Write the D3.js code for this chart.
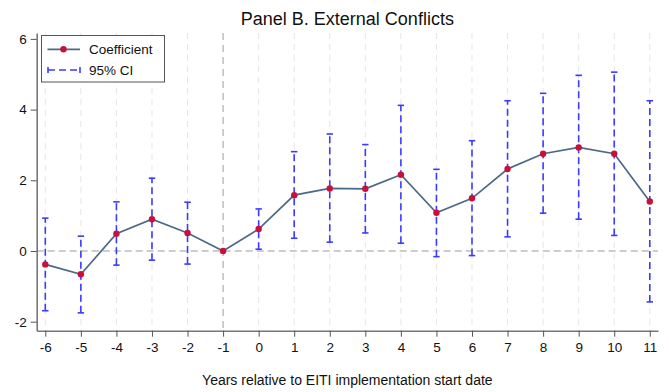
<!DOCTYPE html>
<html>
<head>
<meta charset="utf-8">
<script src="https://cdn.jsdelivr.net/npm/d3@7"></script>
<style>
  html, body { margin: 0; padding: 0; background: #fff; }
  svg { display: block; font-family: "Liberation Sans", Arial, sans-serif; }
</style>
</head>
<body>
<svg id="chart" width="669" height="392"></svg>
<script>
const years = [-6,-5,-4,-3,-2,-1,0,1,2,3,4,5,6,7,8,9,10,11];
const coef  = [-0.38,-0.66,0.49,0.90,0.51,0.00,0.62,1.58,1.77,1.76,2.16,1.08,1.49,2.32,2.75,2.93,2.75,1.40];
const ciLow = [-1.69,-1.75,-0.40,-0.26,-0.37,null,0.05,0.36,0.25,0.51,0.22,-0.16,-0.13,0.40,1.07,0.90,0.44,-1.44];
const ciHigh= [0.93,0.42,1.39,2.06,1.38,null,1.19,2.81,3.31,3.01,4.12,2.31,3.12,4.25,4.46,4.97,5.06,4.25];
const yTicks = [-2,0,2,4,6];
const titleText = "Panel B. External Conflicts";
const xLabel = "Years relative to EITI implementation start date";

const svg = d3.select("#chart");
const L = 36.7, R = 658, T = 33, B = 330.7;

const x = d3.scaleLinear().domain([-6.242, 11.231]).range([L, R]);
const y = d3.scaleLinear().domain([-2.255, 6.167]).range([B, T]);

// vertical grid lines
svg.append("g").selectAll("line").data(years.filter(d => d !== -1)).join("line")
  .attr("x1", d => x(d)).attr("x2", d => x(d))
  .attr("y1", T).attr("y2", B)
  .attr("stroke", "#e6e6e6").attr("stroke-width", 1)
  .attr("stroke-dasharray", "6,5");

// reference line at x=-1
svg.append("line")
  .attr("x1", x(-1)).attr("x2", x(-1)).attr("y1", T).attr("y2", B)
  .attr("stroke", "#a9b8b8").attr("stroke-width", 1.3)
  .attr("stroke-dasharray", "7,5");

// reference line at y=0
svg.append("line")
  .attr("x1", L).attr("x2", R).attr("y1", y(0)).attr("y2", y(0))
  .attr("stroke", "#9a9a9a").attr("stroke-width", 1)
  .attr("stroke-dasharray", "7,4");

// axes
const fmt = d => String(d);
const xAxis = d3.axisBottom(x).tickValues(years).tickSize(6).tickSizeOuter(0).tickFormat(fmt);
const gx = svg.append("g").attr("transform", `translate(0,${B})`).call(xAxis);
gx.select(".domain").attr("stroke", "#777").attr("stroke-width", 1.6);
gx.selectAll(".tick line").attr("stroke", "#555");
gx.selectAll(".tick text").attr("font-size", 13.5).attr("fill", "#111").attr("dy", "0.72em").attr("y", 12)
  .attr("font-family", "Liberation Sans, Arial, sans-serif");

const yAxis = d3.axisLeft(y).tickValues(yTicks).tickSize(6).tickSizeOuter(0).tickFormat(fmt);
const gy = svg.append("g").attr("transform", `translate(${L},0)`).call(yAxis);
gy.select(".domain").attr("stroke", "#777").attr("stroke-width", 1.6);
gy.selectAll(".tick line").attr("stroke", "#555");
gy.selectAll(".tick text").attr("font-size", 13.5).attr("fill", "#111").attr("x", -10)
  .attr("font-family", "Liberation Sans, Arial, sans-serif");

// CIs
const ciData = years.map((d, i) => ({x: d, lo: ciLow[i], hi: ciHigh[i]})).filter(d => d.lo !== null);
const ciColor = "#3b3bff";
const gci = svg.append("g");
gci.selectAll("line.ci").data(ciData).join("line").attr("class", "ci")
  .attr("x1", d => x(d.x)).attr("x2", d => x(d.x))
  .attr("y1", d => y(d.lo)).attr("y2", d => y(d.hi))
  .attr("stroke", ciColor).attr("stroke-width", 1.6).attr("stroke-dasharray", "7,4");
gci.selectAll("line.capH").data(ciData).join("line").attr("class", "capH")
  .attr("x1", d => x(d.x) - 3.2).attr("x2", d => x(d.x) + 3.2)
  .attr("y1", d => y(d.hi)).attr("y2", d => y(d.hi))
  .attr("stroke", ciColor).attr("stroke-width", 1.6);
gci.selectAll("line.capL").data(ciData).join("line").attr("class", "capL")
  .attr("x1", d => x(d.x) - 3.2).attr("x2", d => x(d.x) + 3.2)
  .attr("y1", d => y(d.lo)).attr("y2", d => y(d.lo))
  .attr("stroke", ciColor).attr("stroke-width", 1.6);

// coefficient line
const pts = years.map((d, i) => ({x: d, v: coef[i]}));
svg.append("path").datum(pts)
  .attr("d", d3.line().x(d => x(d.x)).y(d => y(d.v)))
  .attr("fill", "none").attr("stroke", "#4a6a88").attr("stroke-width", 1.7);
svg.append("g").selectAll("circle").data(pts).join("circle")
  .attr("cx", d => x(d.x)).attr("cy", d => y(d.v)).attr("r", 3.2)
  .attr("fill", "#c8103c");

// title
svg.append("text").attr("x", (L + R) / 2).attr("y", 25)
  .attr("text-anchor", "middle").attr("font-size", 18).attr("fill", "#111").text(titleText);

// x label
svg.append("text").attr("x", (L + R) / 2).attr("y", 385)
  .attr("text-anchor", "middle").attr("font-size", 14).attr("fill", "#111").text(xLabel);

// legend
const lg = svg.append("g");
lg.append("rect").attr("x", 41.5).attr("y", 35.5).attr("width", 123).attr("height", 46.5)
  .attr("fill", "#fff").attr("stroke", "#555").attr("stroke-width", 1);
lg.append("line").attr("x1", 47.5).attr("x2", 80).attr("y1", 49.3).attr("y2", 49.3)
  .attr("stroke", "#4a6a88").attr("stroke-width", 1.7);
lg.append("circle").attr("cx", 63.5).attr("cy", 49.3).attr("r", 3.2).attr("fill", "#c8103c");
lg.append("text").attr("x", 89).attr("y", 54).attr("font-size", 13.5).attr("fill", "#111").text("Coefficient");
lg.append("line").attr("x1", 48).attr("x2", 80).attr("y1", 70).attr("y2", 70)
  .attr("stroke", ciColor).attr("stroke-width", 1.6).attr("stroke-dasharray", "7,4");
lg.append("line").attr("x1", 48).attr("x2", 48).attr("y1", 67).attr("y2", 73)
  .attr("stroke", ciColor).attr("stroke-width", 1.6);
lg.append("line").attr("x1", 80).attr("x2", 80).attr("y1", 67).attr("y2", 73)
  .attr("stroke", ciColor).attr("stroke-width", 1.6);
lg.append("text").attr("x", 89).attr("y", 75).attr("font-size", 13.5).attr("fill", "#111").text("95% CI");
</script>
</body>
</html>
